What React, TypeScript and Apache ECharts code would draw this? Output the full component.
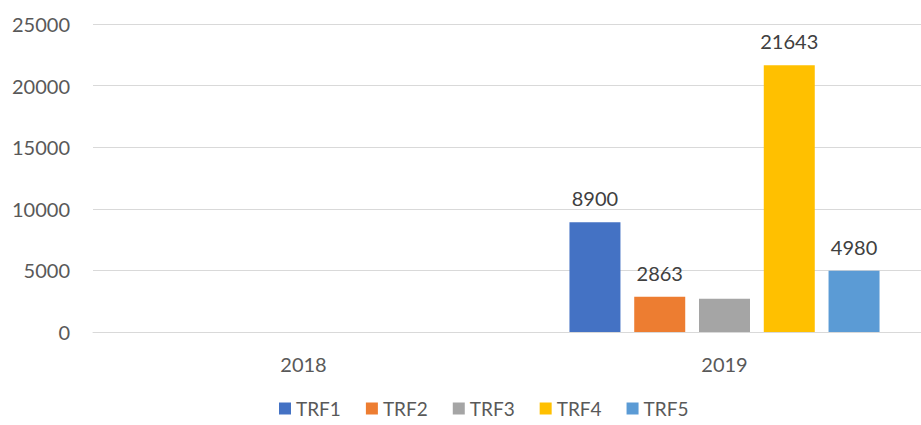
import React, { useEffect, useRef } from "react";
import * as echarts from "echarts";

const categories = ["2018", "2019"];
const seriesNames = ["TRF1", "TRF2", "TRF3", "TRF4", "TRF5"];
const trf1 = [null, 8900];
const trf2 = [null, 2863];
const trf3 = [null, 2700];
const trf4 = [null, 21643];
const trf5 = [null, 4980];
const showLabel = [true, true, false, true, true];
const colors = ["#4472C4", "#ED7D31", "#A5A5A5", "#FFC000", "#5B9BD5"];

const FONT = "Lato, 'Open Sans', sans-serif";

export default function App() {
  const ref = useRef<HTMLDivElement>(null);
  useEffect(() => {
    document.body.style.margin = "0";
    const chart = echarts.init(ref.current!, undefined, { renderer: "svg" });
    const values = [trf1, trf2, trf3, trf4, trf5];
    chart.setOption({
      animation: false,
      color: colors,
      textStyle: { fontFamily: FONT },
      grid: { left: 93, width: 842, top: 24, bottom: 93, containLabel: false },
      legend: {
        bottom: 2,
        left: 274,
        itemWidth: 12,
        itemHeight: 12,
        itemGap: 25,
        icon: "rect",
        textStyle: { fontSize: 19, color: "#595959", fontFamily: FONT },
        data: seriesNames,
      },
      xAxis: {
        type: "category",
        data: categories,
        axisLine: { lineStyle: { color: "#d9d9d9", width: 1 } },
        axisTick: { show: false },
        axisLabel: { fontSize: 20, color: "#595959", margin: 22, fontFamily: FONT },
      },
      yAxis: {
        type: "value",
        min: 0,
        max: 25000,
        interval: 5000,
        axisLine: { show: false },
        axisTick: { show: false },
        splitLine: { lineStyle: { color: "#d9d9d9", width: 1 } },
        axisLabel: {
          fontSize: 20,
          color: "#595959",
          margin: 23,
          fontFamily: FONT,
          formatter: (v: number) => String(v),
        },
      },
      series: seriesNames.map((name, i) => ({
        name,
        type: "bar",
        data: values[i],
        barWidth: 51,
        barGap: "27%",
        label: {
          show: showLabel[i],
          position: "top",
          distance: 14,
          fontSize: 20,
          color: "#404040",
          fontFamily: FONT,
        },
      })),
    });
    return () => chart.dispose();
  }, []);
  return (
    <div style={{ width: 921, height: 425, overflow: "hidden" }}>
      <div ref={ref} style={{ width: 940, height: 425 }} />
    </div>
  );
}
